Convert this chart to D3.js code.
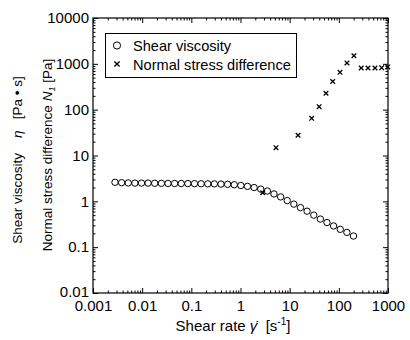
<!DOCTYPE html>
<html><head><meta charset="utf-8">
<script src="https://cdn.jsdelivr.net/npm/d3@7"></script>
<style>
body{margin:0;background:#fff;}
text{font-family:"Liberation Sans",Arial,sans-serif;fill:#000;white-space:pre;}
</style></head>
<body><svg id="c" width="410" height="340"></svg>
<script>
// Shear viscosity data
const viscRate = [0.0028,0.00382,0.00521,0.00711,0.00969,0.0132,0.0180,0.0246,0.0335,0.0457,0.0623,0.085,0.116,0.158,0.216,0.294,0.401,0.547,0.746,1.017,1.387,1.892,2.58,3.52,4.80,6.55,8.93,12.17,16.6,22.6,30.9,42.1,57.4,78.3,106.8,145.7,198.7];
const viscValue = [2.6,2.55,2.52,2.5,2.5,2.5,2.48,2.47,2.46,2.45,2.45,2.44,2.43,2.42,2.41,2.4,2.38,2.35,2.3,2.22,2.12,2.0,1.85,1.68,1.45,1.25,1.04,0.87,0.73,0.61,0.5,0.41,0.345,0.29,0.245,0.21,0.175];
// Normal stress difference data
const nsdRate = [2.83,5.27,14.8,28.0,39.8,54.8,75.0,105.5,146.5,203,285,392,544,744,990];
const nsdValue = [1.54,14.8,27.7,64.7,116,228,411,653,1042,1503,811,811,811,819,855];
// Axis ticks
const xTicks = [0.001,0.01,0.1,1,10,100,1000];
const xTickLabels = ["0.001","0.01","0.1","1","10","100","1000"];
const yTicks = [0.01,0.1,1,10,100,1000,10000];
const yTickLabels = ["0.01","0.1","1","10","100","1000","10000"];
const legendLabels = ["Shear viscosity","Normal stress difference"];

const svg = d3.select("#c");
const L=93,R=388,T=18,B=293;
const x = d3.scaleLog().domain([0.001,1000]).range([L,R]);
const y = d3.scaleLog().domain([0.01,10000]).range([B,T]);

function minors(lo,hi){const m=[];for(let e=Math.log10(lo);e<Math.log10(hi);e++){for(let k=2;k<=9;k++)m.push(k*Math.pow(10,e));}return m;}
const xMin = minors(0.001,1000), yMin = minors(0.01,10000);

const fs = "15px";
// bottom
svg.append("g").attr("transform",`translate(0,${B})`)
  .call(d3.axisBottom(x).tickValues(xTicks).tickFormat((d,i)=>xTickLabels[i]).tickSizeInner(-5).tickSizeOuter(0).tickPadding(6))
  .call(g=>{g.select(".domain").remove();g.selectAll("text").style("font-size",fs).attr("dy","0.8em");});
svg.append("g").attr("transform",`translate(0,${B})`)
  .call(d3.axisBottom(x).tickValues(xMin).tickFormat("").tickSizeInner(-2.5).tickSizeOuter(0))
  .call(g=>g.select(".domain").remove());
// top
svg.append("g").attr("transform",`translate(0,${T})`)
  .call(d3.axisTop(x).tickValues(xTicks).tickFormat("").tickSizeInner(-5).tickSizeOuter(0))
  .call(g=>g.select(".domain").remove());
svg.append("g").attr("transform",`translate(0,${T})`)
  .call(d3.axisTop(x).tickValues(xMin).tickFormat("").tickSizeInner(-2.5).tickSizeOuter(0))
  .call(g=>g.select(".domain").remove());
// left
svg.append("g").attr("transform",`translate(${L},0)`)
  .call(d3.axisLeft(y).tickValues(yTicks).tickFormat((d,i)=>yTickLabels[i]).tickSizeInner(-5).tickSizeOuter(0).tickPadding(4))
  .call(g=>{g.select(".domain").remove();g.selectAll("text").style("font-size",fs).attr("dy",(d,i)=>i===0?"0.2em":"0.32em");});
svg.append("g").attr("transform",`translate(${L},0)`)
  .call(d3.axisLeft(y).tickValues(yMin).tickFormat("").tickSizeInner(-2.5).tickSizeOuter(0))
  .call(g=>g.select(".domain").remove());
// right
svg.append("g").attr("transform",`translate(${R},0)`)
  .call(d3.axisRight(y).tickValues(yTicks).tickFormat("").tickSizeInner(-5).tickSizeOuter(0))
  .call(g=>g.select(".domain").remove());
svg.append("g").attr("transform",`translate(${R},0)`)
  .call(d3.axisRight(y).tickValues(yMin).tickFormat("").tickSizeInner(-2.5).tickSizeOuter(0))
  .call(g=>g.select(".domain").remove());
svg.selectAll(".tick line").attr("stroke","#000");

// frame
svg.append("rect").attr("x",L).attr("y",T).attr("width",R-L).attr("height",B-T)
  .attr("fill","none").attr("stroke","#000").attr("stroke-width",1.2);

// data
const crossPath = s => `M${-s},${-s}L${s},${s}M${-s},${s}L${s},${-s}`;
svg.append("g").selectAll("path").data(nsdRate).join("path")
  .attr("transform",(d,i)=>`translate(${x(d)},${y(nsdValue[i])})`)
  .attr("d",crossPath(2.3)).attr("stroke","#000").attr("stroke-width",1.3).attr("fill","none");
svg.append("g").selectAll("circle").data(viscRate).join("circle")
  .attr("cx",d=>x(d)).attr("cy",(d,i)=>y(viscValue[i])).attr("r",3.2)
  .attr("fill","none").attr("stroke","#000").attr("stroke-width",1);

// legend
const lg = svg.append("g");
lg.append("rect").attr("x",105.5).attr("y",33.5).attr("width",191).attr("height",44)
  .attr("fill","#fff").attr("stroke","#000").attr("stroke-width",1);
lg.append("circle").attr("cx",117).attr("cy",45.5).attr("r",3.6).attr("fill","none").attr("stroke","#000");
lg.append("path").attr("transform","translate(117,64)").attr("d",crossPath(2.6)).attr("stroke","#000").attr("stroke-width",1.4);
lg.selectAll("text.l").data(legendLabels).join("text").attr("class","l")
  .attr("x",133).attr("y",(d,i)=>51+i*19).style("font-size","14.6px").text(d=>d);

// x title
const xt = svg.append("text").attr("x",233).attr("y",331).attr("text-anchor","middle").style("font-size",fs);
xt.append("tspan").text("Shear rate ");
xt.append("tspan").style("font-style","italic").text("\u03B3\u0307");
xt.append("tspan").text("  [s");
xt.append("tspan").attr("dy","-6").style("font-size","10px").text("-1");
xt.append("tspan").attr("dy","6").text("]");

// y titles
const yfs = "13.5px";
const yt1 = svg.append("text").attr("transform","translate(22,160) rotate(-90)").attr("text-anchor","middle").style("font-size",yfs);
yt1.append("tspan").text("Shear viscosity    ");
yt1.append("tspan").style("font-style","italic").text("\u03B7");
yt1.append("tspan").text("   [Pa \u2022 s]");
const yt2 = svg.append("text").attr("transform","translate(52,155) rotate(-90)").attr("text-anchor","middle").style("font-size",yfs);
yt2.append("tspan").text("Normal stress difference ");
yt2.append("tspan").style("font-style","italic").text("N");
yt2.append("tspan").style("font-style","italic").style("font-size","9px").attr("dy","3").text("1");
yt2.append("tspan").attr("dy","-3").text(" [Pa]");
</script></body></html>
